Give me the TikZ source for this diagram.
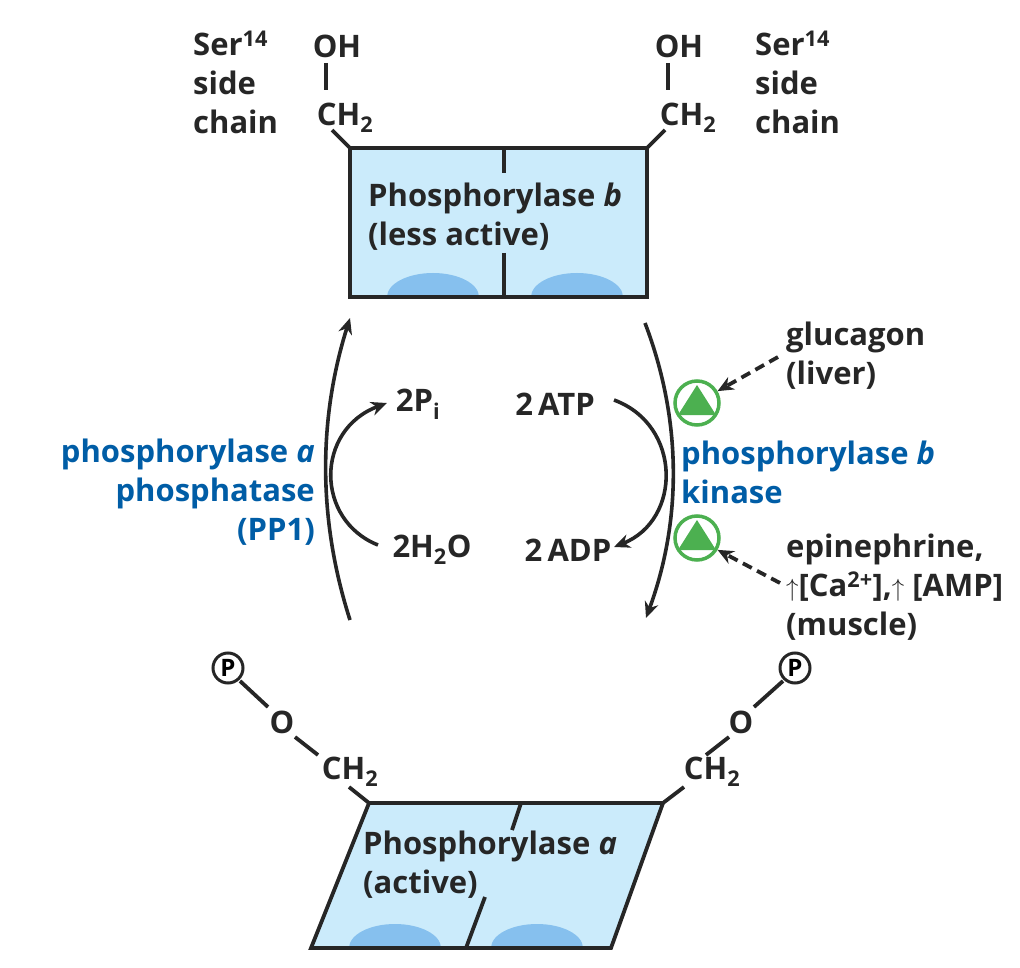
\documentclass[tikz,border=0pt]{standalone}
\usepackage{fontspec}
\setmainfont{Open Sans}
\usetikzlibrary{arrows.meta}
\definecolor{lb}{HTML}{CBEBFB}
\definecolor{bump}{HTML}{86C0EE}
\definecolor{bl}{HTML}{005DA6}
\definecolor{gr}{HTML}{4CB050}
\begin{document}
\begin{tikzpicture}[x=1pt,y=-1pt,
  t/.style={font=\fontsize{31}{39}\selectfont\bfseries, inner sep=0pt, text=black!85},
  bt/.style={t, text=bl},
  ln/.style={line width=3.8pt, black!85},
  arr/.style={line width=3.6pt, black!85, -{Stealth[length=16pt,width=14pt]}},
  das/.style={line width=3.8pt, black!85, dash pattern=on 10pt off 6pt, -{Stealth[length=16pt,width=14pt]}},
  gc/.style={circle, draw=gr, line width=3.5pt, minimum size=44pt, inner sep=0pt, fill=white},
  pc/.style={circle, draw=black!85, line width=3pt, minimum size=30pt, inner sep=0pt, font=\fontsize{24}{24}\selectfont\bfseries}]
\useasboundingbox (0,0) rectangle (1020,968);
% top rectangle
\fill[lb] (350,148) rectangle (647,297);
\fill[bump] (387,297) arc[start angle=180,end angle=360,x radius=46,y radius=24];
\fill[bump] (531,297) arc[start angle=180,end angle=360,x radius=46,y radius=24];
\draw[ln] (350,148) rectangle (647,297);
\draw[ln] (504,148) -- (504,173) (504,253) -- (504,297);
\node[t, anchor=west, align=left] (tb) at (368,217) {Phosphorylase \textit{b}\\(less active)};
% bottom parallelogram
\fill[lb] (369,803) -- (663,803) -- (611,948) -- (311,948) -- cycle;
\begin{scope}
\clip (369,803) -- (663,803) -- (611,948) -- (311,948) -- cycle;
\fill[bump] (349,948) arc[start angle=180,end angle=360,x radius=46,y radius=24];
\fill[bump] (491,948) arc[start angle=180,end angle=360,x radius=46,y radius=24];
\end{scope}
\draw[ln] (369,803) -- (663,803) -- (611,948) -- (311,948) -- cycle;
\draw[ln] (521,803) -- (512,830) (485,897) -- (466,948);
\node[t, anchor=west, align=left] (ba) at (363,865) {Phosphorylase \textit{a}\\(active)};
% top side chains
\node[t, anchor=west, align=left] (serl) at (193,82) {Ser\textsuperscript{14}\\side\\chain};
\node[t] (ohl) at (337,46) {OH};
\node[t] (chl) at (345,118) {CH\textsubscript{2}};
\draw[line width=3.4pt, black!85] (326,63) -- (326,90);
\draw[ln] (332,130) -- (350,148);
\node[t, anchor=west, align=left] (serr) at (755,82) {Ser\textsuperscript{14}\\side\\chain};
\node[t] (ohr) at (679,46) {OH};
\node[t] (chr) at (688,118) {CH\textsubscript{2}};
\draw[line width=3.4pt, black!85] (668,63) -- (668,90);
\draw[ln] (665,130) -- (647,148);
% bottom side chains
\node[pc] (pl) at (228,668) {P};
\node[t] (ol) at (282,722) {O};
\node[t] (cl) at (350,772) {CH\textsubscript{2}};
\draw[ln] (240,681) -- (268,707);
\draw[ln] (295,737) -- (318,755);
\draw[ln] (349,787) -- (369,803);
\node[pc] (pr) at (795,668) {P};
\node[t] (or) at (741,722) {O};
\node[t] (cr) at (712,772) {CH\textsubscript{2}};
\draw[ln] (783,681) -- (754,707);
\draw[ln] (729,737) -- (706,755);
\draw[ln] (684,787) -- (663,803);
% big arcs
\draw[arr] (350,620) .. controls (318,520) and (318,420) .. (350,318);
\draw[arr] (645,323) .. controls (682,420) and (682,520) .. (646,618);
% small arcs
\node[t] (pi) at (418,404) {2P\textsubscript{i}};
\node[t] (atp) at (555,404) {2\,ATP};
\node[t] (h2o) at (432,550) {2H\textsubscript{2}O};
\node[t] (adp) at (568,550) {2\,ADP};
\draw[arr] (378,545) .. controls (315,520) and (315,430) .. (387,403);
\draw[arr] (614,400) .. controls (682,425) and (682,520) .. (614,547);
% labels
\node[bt, anchor=east, align=right] (pp1) at (315,492) {phosphorylase \textit{a}\\phosphatase\\(PP1)};
\node[bt, anchor=west, align=left] (kin) at (681,472) {phosphorylase \textit{b}\\kinase};
% green circles
\node[gc] (g1) at (697,403) {};
\node[gc] (g2) at (697,538) {};
\fill[gr] (697,385) -- (716,415) -- (678,415) -- cycle;
\fill[gr] (697,520) -- (716,550) -- (678,550) -- cycle;
\node[t, anchor=west, align=left] (glu) at (786,356) {glucagon\\(liver)};
\node[t, anchor=west, align=left] (epi) at (786,587) {epinephrine,\\$\uparrow$[Ca\textsuperscript{2+}],$\uparrow$ [AMP]\\(muscle)};
\coordinate (d1) at (778,357);
\coordinate (d2) at (780,583);
\draw[das] (d1) -- (g1.30);
\draw[das] (d2) -- (g2.-30);
\end{tikzpicture}
\end{document}
